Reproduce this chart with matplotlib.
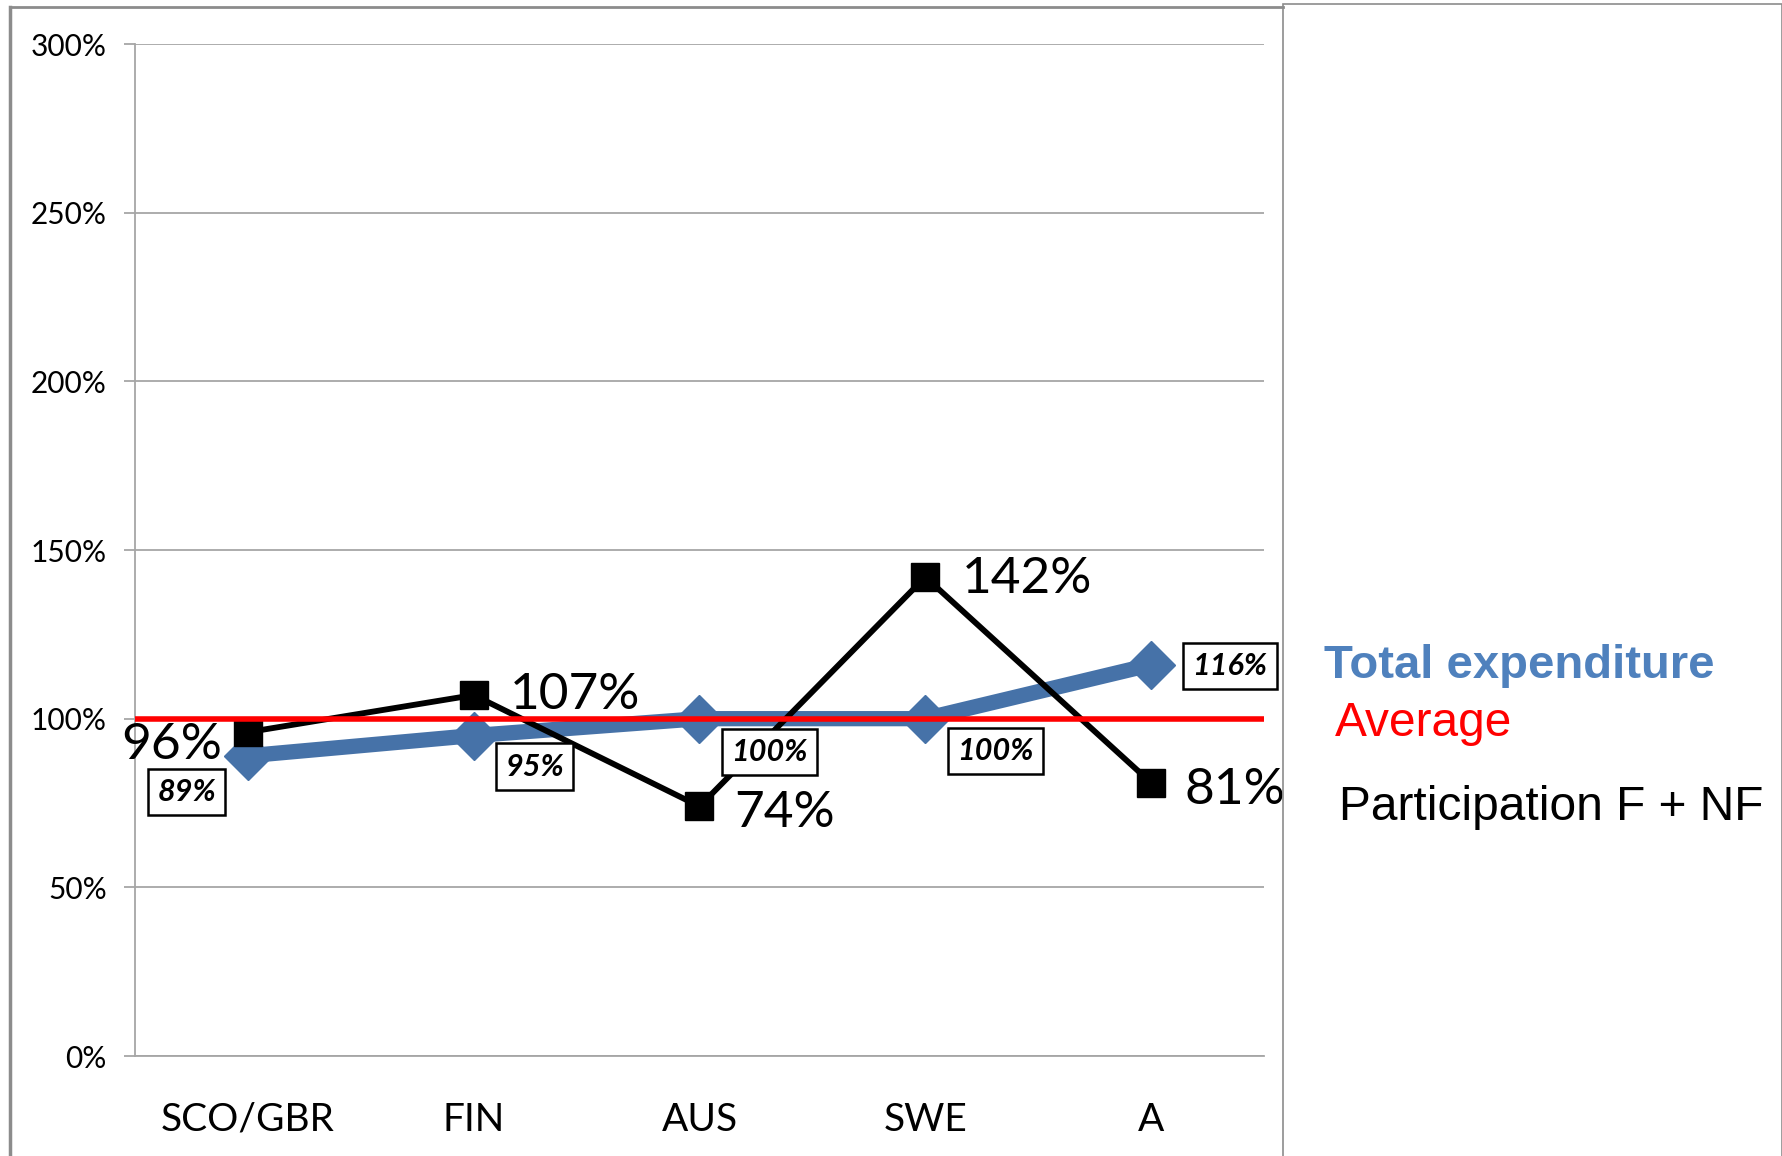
import matplotlib
matplotlib.use("Agg")
import matplotlib.pyplot as plt
from matplotlib.lines import Line2D
from matplotlib.patches import Rectangle

# ---- data ----
categories = ["SCO/GBR", "FIN", "AUS", "SWE", "A"]
total_expenditure = [89, 95, 100, 100, 116]
participation = [96, 107, 74, 142, 81]
average_level = 100
y_ticks = [0, 50, 100, 150, 200, 250, 300]
legend_labels = ["Total expenditure", "Average", "Participation F + NF"]

W, H = 1783, 1156
DPI = 100
PX = 72.0 / DPI  # pixels -> points

BLUE_LINE = "#4672A8"
BLUE_TEXT = "#4F81BD"
GRID = "#A6A6A6"
FRAME = "#8C8C8C"
TICKFONT = "Lato"

fig = plt.figure(figsize=(W / DPI, H / DPI), dpi=DPI)
fig.patch.set_facecolor("white")

# frames
fig.add_artist(Line2D([10 / W, 10 / W], [0, 1 - 7 / H], transform=fig.transFigure,
                      color=FRAME, lw=2.5))
fig.add_artist(Line2D([10 / W, 1283 / W], [1 - 7 / H, 1 - 7 / H], transform=fig.transFigure,
                      color=FRAME, lw=2.0))
fig.add_artist(Rectangle((1283 / W, -0.01), (W - 1 - 1283) / W, 1.01 - 4 / H,
                         transform=fig.transFigure, fill=False, ec=FRAME, lw=1.2))

ax = fig.add_axes([135 / W, (H - 1056) / H, (1264 - 135) / W, (1056 - 44) / H])
x = list(range(len(categories)))

ax.set_xlim(-0.5, len(categories) - 0.5)
ax.set_ylim(0, 300)
ax.set_yticks(y_ticks)
ax.set_yticklabels([f"{v}%" for v in y_ticks], fontfamily=TICKFONT, fontsize=21.5)
ax.set_xticks(x)
ax.set_xticklabels(categories, fontfamily=TICKFONT, fontsize=28)
ax.tick_params(axis="y", length=11 * PX, width=1.3, color=GRID, pad=17 * PX)
ax.tick_params(axis="x", length=0, pad=46 * PX)
ax.yaxis.grid(True, color=GRID, lw=1.3)
ax.set_axisbelow(True)
for s in ["top", "right"]:
    ax.spines[s].set_visible(False)
for s in ["left", "bottom"]:
    ax.spines[s].set_color(GRID)
    ax.spines[s].set_linewidth(1.3)

# series
ax.plot(x, total_expenditure, color=BLUE_LINE, lw=11, marker="D", ms=24,
        mec=BLUE_LINE, mfc=BLUE_LINE, zorder=3, solid_joinstyle="miter")
ax.plot(x, participation, color="black", lw=4.2, marker="s", ms=20,
        mfc="black", mec="black", zorder=4)
ax.axhline(average_level, color="#FF0000", lw=4, zorder=5)

# participation labels (offsets in px: dx, dy-down)
p_offsets = [(-26, 8, "right"), (36, -5, "left"), (35, 2, "left"), (37, -2, "left"), (33, 3, "left")]
for xi, v, (dx, dy, ha) in zip(x, participation, p_offsets):
    ax.annotate(f"{v}%", (xi, v), xytext=(dx * PX, -dy * PX), textcoords="offset points",
                ha=ha, va="center_baseline", fontsize=37, fontfamily=TICKFONT,
                color="black", zorder=10)

# total expenditure boxed labels (center offsets in px)
t_offsets = [(-61, 36), (61, 31), (70, 33), (70, 32), (79, 1)]
for xi, v, (dx, dy) in zip(x, total_expenditure, t_offsets):
    ax.annotate(f"{v}%", (xi, v), xytext=(dx * PX, -dy * PX), textcoords="offset points",
                ha="center", va="center", fontsize=22, fontfamily=TICKFONT,
                fontweight="bold", fontstyle="italic", color="black", zorder=11,
                bbox=dict(boxstyle="square,pad=0.3", fc="white", ec="black", lw=1.8))

# legend-like texts on right
fig.text(1324 / W, 1 - 661 / H, legend_labels[0], color=BLUE_TEXT, fontsize=34,
         fontweight="bold", fontfamily="Liberation Sans", ha="left", va="center_baseline")
fig.text(1335 / W, 1 - 719 / H, legend_labels[1], color="#FF0000", fontsize=34.5,
         fontfamily="Liberation Sans", ha="left", va="center_baseline")
fig.text(1339 / W, 1 - 803 / H, legend_labels[2], color="black", fontsize=34.5,
         fontfamily="Liberation Sans", ha="left", va="center_baseline")

fig.savefig("out.png", dpi=DPI, facecolor="white")
